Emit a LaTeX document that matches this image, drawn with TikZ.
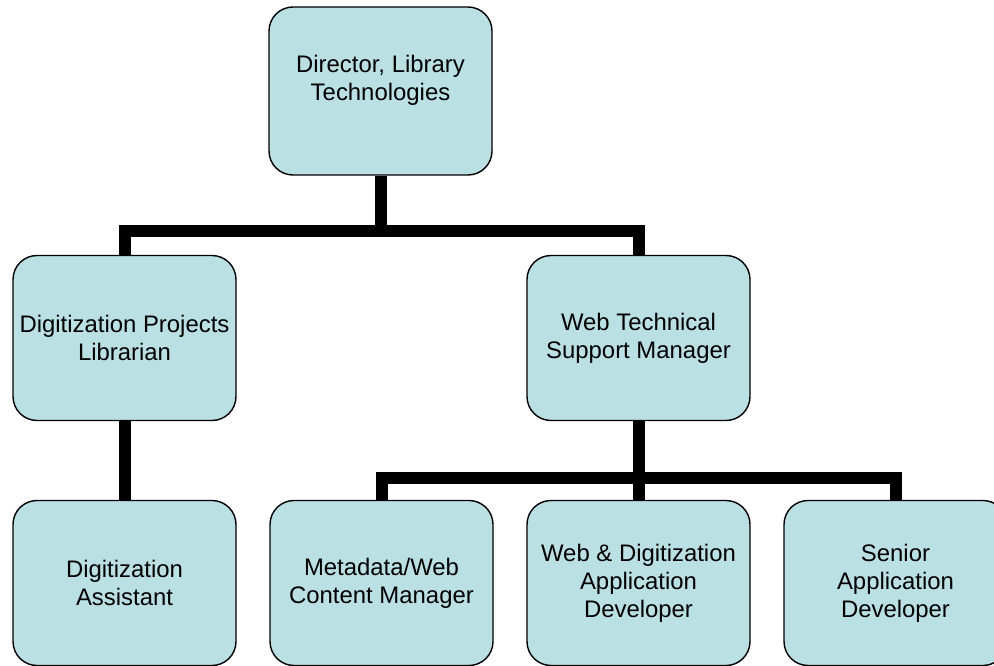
\documentclass[tikz,border=0pt]{standalone}
\usepackage{fontspec}
\setmainfont{Liberation Sans}
\definecolor{boxfill}{RGB}{187,224,227}
\begin{document}
\begin{tikzpicture}[x=1pt,y=-1pt,
  orgbox/.style={draw=black, line width=1.4pt, fill=boxfill,
    rounded corners=24pt, minimum width=223pt, minimum height=165pt,
    inner sep=2pt, align=center,
    font=\fontsize{23.9pt}{28pt}\selectfont},
  conn/.style={line width=12pt, line join=miter, line cap=butt}]
\useasboundingbox (0,0) rectangle (994,666);

% junction points of the two horizontal bars
\coordinate (j1) at (380.5,231);
\coordinate (j2) at (638.5,478);

% boxes
\node[orgbox, minimum height=168pt] (dir) at (380.5,91)
  {Director, Library\\Technologies\rule[-26pt]{0pt}{0pt}};
\node[orgbox] (dpl) at (124.5,338) {Digitization Projects\\Librarian};
\node[orgbox] (wts) at (638.5,338) {Web Technical\\Support Manager};
\node[orgbox] (da) at (124.5,583) {Digitization\\Assistant};
\node[orgbox] (meta) at (381.5,583) {Metadata/Web\\Content Manager};
\node[orgbox] (wda) at (638.5,583) {Web \& Digitization\\Application\\Developer};
\node[orgbox] (sad) at (895.5,583) {Senior\\Application\\Developer};

% reporting lines
\draw[conn] (dir.south) -- (j1);
\draw[conn] (dpl.north) |- (j1) -| (wts.north);
\draw[conn] (dpl.south) -- (da.north);
\draw[conn] (wts.south) -- (wda.north);
\draw[conn] (meta.north) |- (j2) -| (sad.north);
\end{tikzpicture}
\end{document}
